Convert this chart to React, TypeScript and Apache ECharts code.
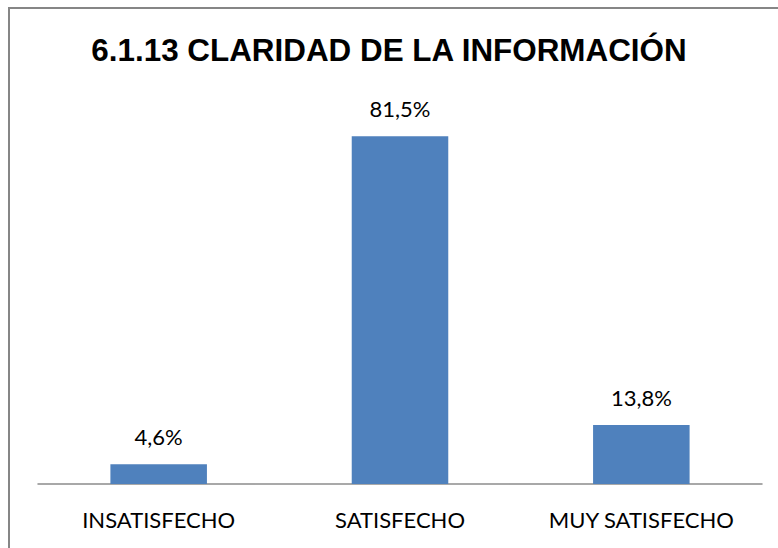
import React, { useEffect, useRef } from "react";
import * as echarts from "echarts";

const categories = ["INSATISFECHO", "SATISFECHO", "MUY SATISFECHO"];
const values = [4.6, 81.5, 13.8];
const title = "6.1.13 CLARIDAD DE LA INFORMACIÓN";

export default function App() {
  const ref = useRef<HTMLDivElement>(null);
  useEffect(() => {
    if (!ref.current) return;
    const chart = echarts.init(ref.current, null, { renderer: "svg" });
    chart.setOption({
      animation: false,
      backgroundColor: "#ffffff",
      title: {
        text: title,
        left: "center",
        top: 30,
        textStyle: {
          fontFamily: "Liberation Sans, Arial, sans-serif",
          fontWeight: "bold",
          fontSize: 31.4,
          color: "#000000",
        },
      },
      graphic: [
        {
          type: "rect",
          shape: { x: 9, y: 8, width: 790, height: 570 },
          style: { fill: "none", stroke: "#868686", lineWidth: 2 },
          silent: true,
        },
      ],
      grid: { left: 38, right: 16, top: 100, bottom: 64, containLabel: false },
      xAxis: {
        type: "category",
        data: categories,
        axisLine: { show: true, lineStyle: { color: "#8c8c8c", width: 1.5 } },
        axisTick: { show: false },
        axisLabel: {
          interval: 0,
          hideOverlap: false,
          color: "#000000",
          fontFamily: "Lato, Open Sans, sans-serif",
          fontSize: 22,
          margin: 24,
        },
      },
      yAxis: {
        type: "value",
        min: 0,
        max: 90,
        show: false,
        splitLine: { show: false },
      },
      series: [
        {
          type: "bar",
          data: values,
          barWidth: "40%",
          itemStyle: { color: "#4F81BD" },
          label: {
            show: true,
            position: "top",
            distance: 17,
            formatter: (p: any) => String(p.value).replace(".", ",") + "%",
            color: "#000000",
            fontFamily: "Lato, Open Sans, sans-serif",
            fontSize: 22,
          },
        },
      ],
    });
    return () => chart.dispose();
  }, []);
  return (
    <div
      ref={ref}
      style={{ position: "fixed", left: 0, top: 0, width: 778, height: 548 }}
    />
  );
}
